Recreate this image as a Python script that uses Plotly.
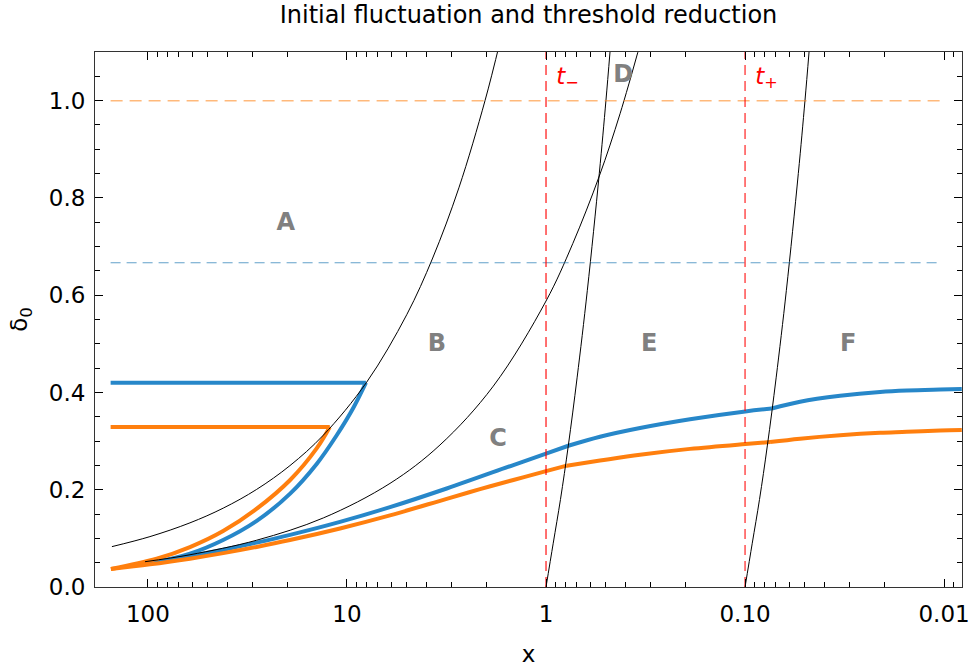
import plotly.graph_objects as go

# ---------------- data ----------------
# black boundary curves
bd1_x = [151.7, 97.7, 61.5, 41.84, 28.43, 19.34, 13.15, 7.96, 5.01, 3.71, 2.74, 2.025, 1.703]
bd1_y = [0.083, 0.1036, 0.1319, 0.1622, 0.2007, 0.2496, 0.3121, 0.4212, 0.5598, 0.6764, 0.8207, 1.0, 1.121]
bd2_x = [103.5, 61.5, 28.43, 13.15, 6.08, 3.41, 1.84, 1.0, 0.734, 0.5398, 0.4247, 0.3332]
bd2_y = [0.052, 0.0663, 0.0962, 0.142, 0.213, 0.292, 0.413, 0.588, 0.706, 0.845, 0.973, 1.123]
st1_x = [1.0, 0.92, 0.846, 0.773, 0.698, 0.62, 0.54, 0.5, 0.477]
st1_y = [0.0, 0.09, 0.18, 0.29, 0.43, 0.61, 0.85, 1.0, 1.1]
st2_x = [0.1, 0.092, 0.0846, 0.0773, 0.0698, 0.062, 0.054, 0.05, 0.0477]
st2_y = [0.0, 0.09, 0.18, 0.29, 0.43, 0.61, 0.85, 1.0, 1.1]

# blue (thick) series
blue_flat_x = [154, 8.03]
blue_flat_y = [0.42, 0.42]
blue_up_x = [103.5, 90.4, 61.5, 41.9, 28.4, 19.3, 14.2, 11.3, 9.3, 8.03]
blue_up_y = [0.049, 0.052, 0.0685, 0.0966, 0.136, 0.192, 0.253, 0.311, 0.368, 0.42]
blue_lo1_x = [103.5, 61.5, 41.84, 28.43, 19.34, 10.84, 6.08, 3.155, 1.459, 1.0, 0.7725]
blue_lo1_y = [0.049, 0.0639, 0.0767, 0.0912, 0.1071, 0.1338, 0.1641, 0.2025, 0.2508, 0.2743, 0.2904]
blue_lo2_x = [0.7725, 0.5355, 0.337, 0.189, 0.0997, 0.0734]
blue_lo2_y = [0.2904, 0.309, 0.327, 0.345, 0.361, 0.367]
blue_lo3_x = [0.0734, 0.0529, 0.0333, 0.02097, 0.0154, 0.01047, 0.00815]
blue_lo3_y = [0.367, 0.381, 0.393, 0.401, 0.404, 0.406, 0.407]

# orange (thick) series
orange_flat_x = [154, 12.2]
orange_flat_y = [0.329, 0.329]
orange_up_x = [153.5, 90.4, 61.5, 41.9, 28.4, 19.3, 14.2, 12.2]
orange_up_y = [0.037, 0.058, 0.082, 0.115, 0.161, 0.220, 0.285, 0.329]
orange_lo1_x = [153.5, 97.7, 61.5, 41.84, 28.43, 19.34, 10.84, 6.08, 3.155, 2.146, 1.459, 1.0, 0.787]
orange_lo1_y = [0.037, 0.0465, 0.0583, 0.0696, 0.0824, 0.0965, 0.1203, 0.1472, 0.1813, 0.2012, 0.2201, 0.2383, 0.2495]
orange_lo2_x = [0.787, 0.5355, 0.337, 0.189, 0.0997, 0.0749]
orange_lo2_y = [0.2495, 0.260, 0.272, 0.284, 0.294, 0.298]
orange_lo3_x = [0.0749, 0.0529, 0.0333, 0.02097, 0.0154, 0.01047, 0.00815]
orange_lo3_y = [0.298, 0.305, 0.312, 0.317, 0.319, 0.322, 0.323]

# reference levels
hline_x = [154, 0.0105]
level_blue = 2 / 3
level_orange = 1.0
t_minus = 1.0
t_plus = 0.1
vline_y = [0, 1.1]

# region labels
region_text = ["A", "B", "C", "D", "E", "F"]
region_x = [20.3, 3.53, 1.74, 0.41, 0.303, 0.0303]
region_y = [0.747, 0.498, 0.302, 1.05, 0.498, 0.498]
t_text = ["<i>t</i><sub>−</sub>", "<i>t</i><sub>+</sub>"]
t_x = [0.78, 0.078]
t_y = [1.047, 1.047]

x_ticks = [100, 10, 1, 0.1, 0.01]
x_ticktext = ["100", "10", "1", "0.10", "0.01"]
x_minor = [m * 10 ** e for e in range(-3, 3) for m in range(2, 10)]

BLUE = "#2787c9"
ORANGE = "#ff7f0e"
FONT = "DejaVu Sans"

fig = go.Figure()

def add_line(x, y, color, width, dash=None, shape="spline"):
    fig.add_trace(go.Scatter(x=x, y=y, mode="lines", showlegend=False, hoverinfo="skip",
                             line=dict(color=color, width=width, dash=dash, shape=shape,
                                       smoothing=1.0 if shape == "spline" else None)))

# thick curves
add_line(blue_flat_x, blue_flat_y, BLUE, 4, shape="linear")
add_line(blue_up_x, blue_up_y, BLUE, 4)
add_line(blue_lo1_x, blue_lo1_y, BLUE, 4)
add_line(blue_lo2_x, blue_lo2_y, BLUE, 4)
add_line(blue_lo3_x, blue_lo3_y, BLUE, 4)
add_line(orange_flat_x, orange_flat_y, ORANGE, 4, shape="linear")
add_line(orange_up_x, orange_up_y, ORANGE, 4)
add_line(orange_lo1_x, orange_lo1_y, ORANGE, 4)
add_line(orange_lo2_x, orange_lo2_y, ORANGE, 4)
add_line(orange_lo3_x, orange_lo3_y, ORANGE, 4)

# boundaries
add_line(bd1_x, bd1_y, "black", 1)
add_line(bd2_x, bd2_y, "black", 1)
add_line(st1_x, st1_y, "black", 1)
add_line(st2_x, st2_y, "black", 1)

# reference levels
add_line(hline_x, [level_orange] * 2, "rgba(255,127,14,0.55)", 1.5, dash="12px,7px", shape="linear")
add_line(hline_x, [level_blue] * 2, "rgba(31,119,180,0.7)", 1, dash="10px,6px", shape="linear")
add_line([t_minus] * 2, vline_y, "rgba(255,0,0,0.75)", 1.5, dash="10px,6px", shape="linear")
add_line([t_plus] * 2, vline_y, "rgba(255,0,0,0.8)", 1.3, dash="10px,6px", shape="linear")

fig.add_trace(go.Scatter(x=region_x, y=region_y, mode="text", text=region_text, showlegend=False,
                         hoverinfo="skip",
                         textfont=dict(family=FONT, size=24, color="#808080", weight="bold")))
fig.add_trace(go.Scatter(x=t_x, y=t_y, mode="text", text=t_text, showlegend=False, hoverinfo="skip",
                         textfont=dict(family=FONT, size=23, color="red")))

axis_common = dict(showline=True, linecolor="#333", linewidth=1, mirror="ticks", ticks="inside",
                   tickcolor="black", showgrid=False, zeroline=False, automargin=False,
                   tickfont=dict(family=FONT, size=23, color="black"))

fig.update_layout(
    width=971, height=670,
    margin=dict(l=95, r=9, t=52, b=83),
    paper_bgcolor="white", plot_bgcolor="white",
    title=dict(text="Initial fluctuation and threshold reduction", x=0.5, xref="paper",
               y=1 - 15 / 670, yref="container", yanchor="middle", xanchor="center",
               font=dict(family=FONT, size=24, color="black")),
    xaxis=dict(type="log", range=[2.266, -2.09], tickvals=x_ticks, ticktext=x_ticktext,
               ticklen=8, tickwidth=1, ticklabelstandoff=6,
               minor=dict(tickvals=x_minor, ticks="inside", ticklen=5, tickcolor="black", showgrid=False),
               title=dict(text="x", font=dict(family=FONT, size=23, color="black"), standoff=20),
               **axis_common),
    yaxis=dict(range=[0, 1.1], tickvals=[0, 0.2, 0.4, 0.6, 0.8, 1.0], tickformat=".1f",
               ticklen=8, tickwidth=1, ticklabelstandoff=4,
               minor=dict(dtick=0.05, ticks="inside", ticklen=5, tickcolor="black", showgrid=False),
               title=dict(text="δ<sub>0</sub>", font=dict(family=FONT, size=23, color="black"), standoff=14),
               **axis_common),
)

fig.write_html("out.html")
